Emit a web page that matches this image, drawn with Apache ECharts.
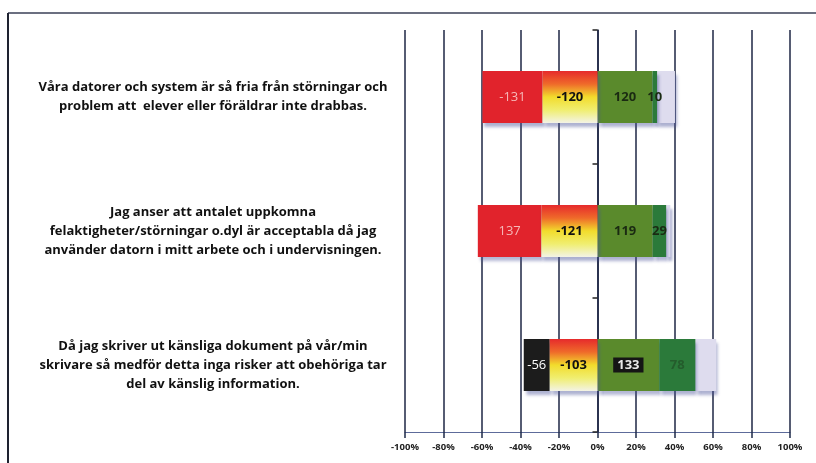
<!DOCTYPE html>
<html><head><meta charset="utf-8">
<script src="https://cdn.jsdelivr.net/npm/echarts@6/dist/echarts.min.js"></script>
<style>html,body{margin:0;padding:0;background:#fff}#c{width:816px;height:463px}</style>
</head><body><div id="c"></div>
<script>
// Categories (statements), top to bottom
var categories = [
  "Våra datorer och system är så fria från störningar och\nproblem att  elever eller föräldrar inte drabbas.",
  "Jag anser att antalet uppkomna\nfelaktigheter/störningar o.dyl är acceptabla då jag\nanvänder datorn i mitt arbete och i undervisningen.",
  "Då jag skriver ut känsliga dokument på vår/min\nskrivare så medför detta inga risker att obehöriga tar\ndel av känslig information."
];
// Answer counts per segment
var countOuterNeg = [131, 137, 56];   // leftmost segment
var countInnerNeg = [120, 121, 103];  // segment next to 0
var countPos      = [120, 119, 133];
var countStrongPos= [10, 29, 78];
var countOther    = [39, 9, 45];      // unlabelled remainder
// Printed labels as they appear
var labelOuterNeg = ["-131", "137", "-56"];
var labelInnerNeg = ["-120", "-121", "-103"];
var labelPos      = ["120", "119", "133"];
var labelStrongPos= ["10", "29", "78"];
var xTicks = [-100, -80, -60, -40, -20, 0, 20, 40, 60, 80, 100];

var totals = categories.map(function(_, i){
  return countOuterNeg[i] + countInnerNeg[i] + countPos[i] + countStrongPos[i] + countOther[i];
});
function pct(arr, sign){ return arr.map(function(v, i){ return sign * v / totals[i] * 100; }); }

var shadow = {shadowColor:'rgba(70,80,150,0.45)', shadowOffsetY:4, shadowOffsetX:2, shadowBlur:3};
function sty(o){ var r = {}; for (var k in shadow) r[k]=shadow[k]; for (var k2 in o) r[k2]=o[k2]; return r; }

var gradient = new echarts.graphic.LinearGradient(0,0,0,1,[
  {offset:0, color:'#e62a2c'},
  {offset:0.25, color:'#ef6a2a'},
  {offset:0.5, color:'#f2dc2c'},
  {offset:0.75, color:'#f0ee70'},
  {offset:1, color:'#f3f3e6'}
]);
var font = '"Open Sans", Lato, sans-serif';

var chart = echarts.init(document.getElementById('c'), null, {renderer:'canvas'});
chart.setOption({
  animation:false,
  backgroundColor:'#fff',
  grid:{left:405, right:26, top:30, bottom:31, containLabel:false, outerBoundsMode:'none'},
  xAxis:{
    type:'value', min:-100, max:100, interval:20,
    axisLine:{show:true, lineStyle:{color:'#5d6b9a', width:1}},
    axisTick:{show:true, length:6, lineStyle:{color:'#1e2a4a', width:1.5}},
    splitLine:{show:true, lineStyle:{color:'#1e2644', width:1.5}},
    axisLabel:{margin:10, fontFamily:font, fontWeight:'bold', fontSize:9.5, color:'#222',
      showMinLabel:true, showMaxLabel:true, hideOverlap:false,
      formatter:function(v){ return xTicks.indexOf(v) >= 0 ? v + '%' : ''; }}
  },
  yAxis:{
    type:'category', inverse:true, data:categories,
    axisLine:{show:true, onZero:true, lineStyle:{color:'#1e2644', width:1.5}},
    axisTick:{show:true, length:5, lineStyle:{color:'#222', width:1.5}},
    axisLabel:{margin:192, align:'center', fontFamily:font, fontWeight:'bold', fontSize:13, lineHeight:19, color:'#111'}
  },
  graphic:[
    {type:'line', shape:{x1:8, y1:13, x2:816, y2:13}, style:{stroke:'#6b6f80', lineWidth:2}},
    {type:'line', shape:{x1:8, y1:13, x2:8, y2:463}, style:{stroke:'#1e2230', lineWidth:2}}
  ],
  series:[
    {name:'inner', type:'bar', stack:'t', barWidth:52, data:pct(countInnerNeg,-1),
      itemStyle:sty({color:gradient}),
      label:{show:true, position:'inside', fontFamily:font, fontWeight:'bold', fontSize:13, color:'#111',
        formatter:function(p){ return labelInnerNeg[p.dataIndex]; }},
      z:3},
    {name:'outer', type:'bar', stack:'t', barWidth:52,
      data:pct(countOuterNeg,-1).map(function(v,i){
        return {value:v, itemStyle:{color: i===2 ? '#1c1c1c' : '#e1232c'},
          label:{color: i===2 ? '#ffffff' : '#f6b8b8'}};
      }),
      itemStyle:sty({}),
      label:{show:true, position:'inside', fontFamily:font, fontSize:13,
        formatter:function(p){ return labelOuterNeg[p.dataIndex]; }},
      z:2},
    {name:'pos', type:'bar', stack:'t', barWidth:52,
      data:pct(countPos,1).map(function(v,i){
        return i===2 ? {value:v, label:{color:'#e8e8e8', backgroundColor:'#151515', padding:[1,4]}} : v;
      }),
      itemStyle:sty({color:'#5a8a2c'}),
      label:{show:true, position:'inside', fontFamily:font, fontWeight:'bold', fontSize:13, color:'#1a2a12',
        formatter:function(p){ return labelPos[p.dataIndex]; }},
      z:2},
    {name:'strongpos', type:'bar', stack:'t', barWidth:52,
      data:pct(countStrongPos,1).map(function(v,i){
        return i===2 ? {value:v, label:{color:'#245c2c'}} : v;
      }),
      itemStyle:sty({color:'#2b7a3a'}),
      label:{show:true, position:'inside', fontFamily:font, fontWeight:'bold', fontSize:13, color:'#1a2a12',
        formatter:function(p){ return labelStrongPos[p.dataIndex]; }},
      z:2},
    {name:'other', type:'bar', stack:'t', barWidth:52, data:pct(countOther,1),
      itemStyle:sty({color:'#dedcee'}),
      z:1}
  ]
});
</script></body></html>
